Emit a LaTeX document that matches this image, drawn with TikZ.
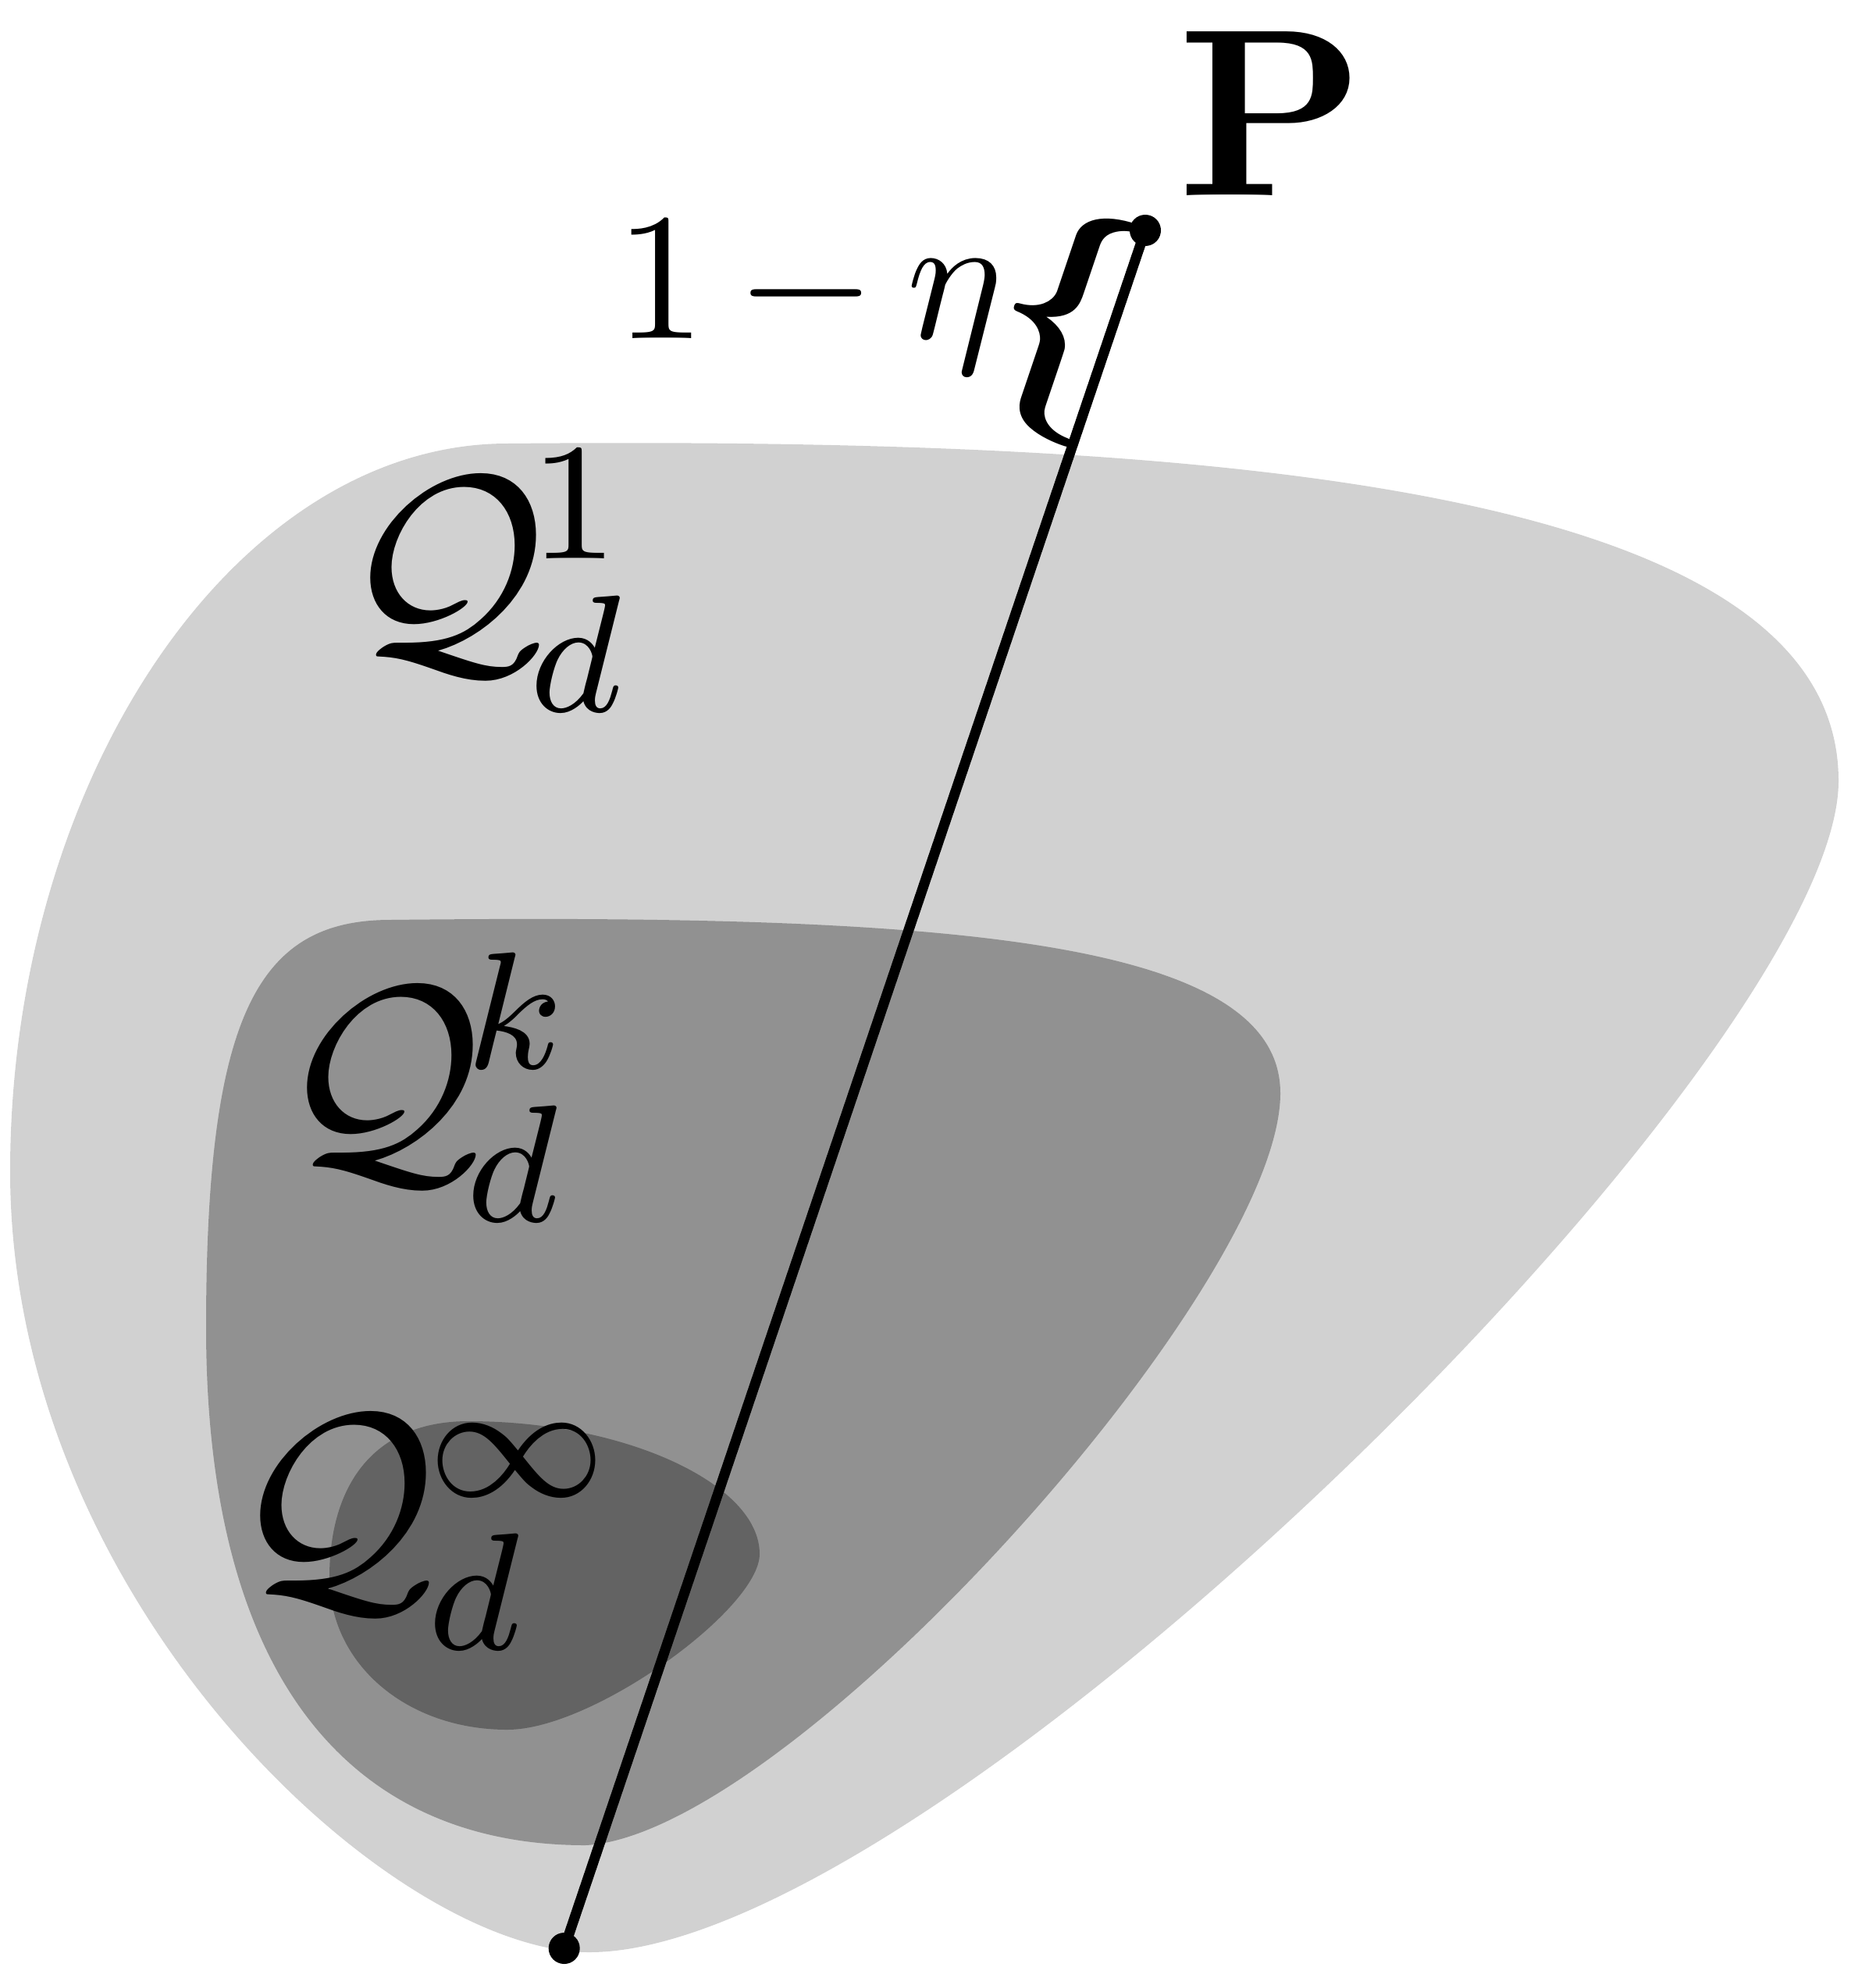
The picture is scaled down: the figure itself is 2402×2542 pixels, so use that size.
\documentclass[tikz,border=0pt]{standalone}
\usetikzlibrary{calc}
\font\bracefont=cmbsy10 at 10pt
\definecolor{lightg}{RGB}{209,209,209}
\definecolor{midg}{RGB}{145,145,145}
\definecolor{darkg}{RGB}{99,99,99}
\tikzset{
  lbl/.style={inner sep=0pt, outer sep=0pt, anchor=base west},
  dotnode/.style={circle, fill=black, inner sep=0pt, minimum size=0.4cm},
  segline/.style={line width=0.13cm, black},
}
\begin{document}
\begin{tikzpicture}[x=0.01cm, y=-0.01cm]
\useasboundingbox (0,0) rectangle (2402,2542);
% outer region
\fill[lightg] (650,568)
  .. controls (1500,560) and (2355,610) .. (2355,1000)
  .. controls (2355,1350) and (1200,2500) .. (755,2500)
  .. controls (500,2500) and (13,2050) .. (13,1500)
  .. controls (13,1000) and (300,568) .. cycle;
% middle region
\fill[midg] (500,1178)
  .. controls (1200,1170) and (1640,1200) .. (1640,1400)
  .. controls (1640,1650) and (1010,2350) .. (750,2363)
  .. controls (450,2363) and (264,2150) .. (264,1700)
  .. controls (264,1300) and (330,1178) .. cycle;
% inner region
\fill[darkg] (600,1820)
  .. controls (800,1820) and (973,1900) .. (973,1990)
  .. controls (973,2060) and (760,2215) .. (650,2215)
  .. controls (520,2215) and (422,2130) .. (422,2020)
  .. controls (422,1900) and (480,1820) .. cycle;
% points and segment
\node[dotnode] (p) at (1467,295) {};
\node[dotnode] (q) at (722.7,2495) {};
\draw[segline] (p.center) -- (q.center);
\coordinate (b) at ($(p.center)!0.125!(q.center)$);
\coordinate (m) at ($(p.center)!0.5!(b)$);
% brace
\node[inner sep=0pt, outer sep=0pt, anchor=east, rotate=-18.7, scale=8.5]
  (br) at ($(m)+(20,7)$) {\bracefont\char"66};
% labels
\node[lbl, scale=6.6] (eta) at (788,433) {\medmuskip=3mu $1-\eta$};
\node[lbl, scale=8.7] (P) at (1508,250) {$\mathbf{P}$};
\node[lbl, scale=7.6] (q1) at (438,832) {\large$\mathcal{Q}\mkern-1.2mu_d^1$};
\node[lbl, scale=7.6] (qk) at (357,1485) {\large$\mathcal{Q}\mkern-1.2mu_d^k$};
\node[lbl, scale=7.6] (qi) at (297,2033) {\large$\mathcal{Q}\mkern-0.6mu_d^\infty$};
\end{tikzpicture}
\end{document}
